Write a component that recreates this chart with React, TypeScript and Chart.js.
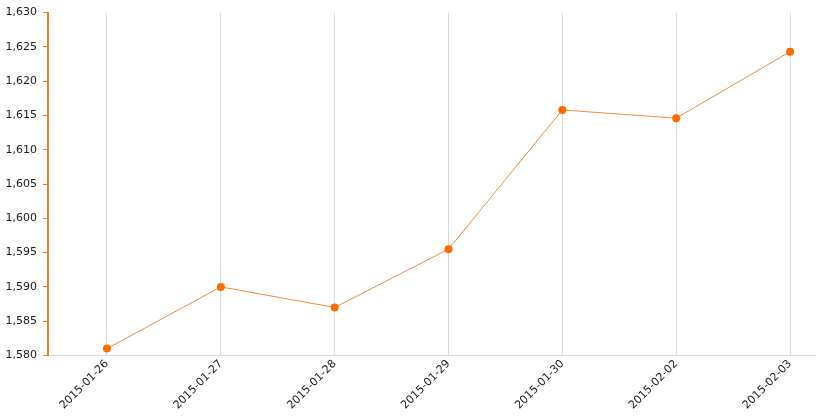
import React, { useEffect, useRef } from "react";
import { Chart, registerables } from "chart.js";

Chart.register(...registerables);

const categories = ["2015-01-26", "2015-01-27", "2015-01-28", "2015-01-29", "2015-01-30", "2015-02-02", "2015-02-03"];
const values = [1581, 1590, 1587, 1595.5, 1615.8, 1614.6, 1624.3];
const yMin = 1580;
const yMax = 1630;
const yStep = 5;

export default function App() {
  const ref = useRef<HTMLCanvasElement | null>(null);
  useEffect(() => {
    if (!ref.current) return;
    const chart = new Chart(ref.current, {
      type: "line",
      data: {
        datasets: [
          {
            data: values.map((v, i) => ({ x: i, y: v })),
            borderColor: "#f58a3a",
            borderWidth: 1,
            pointBackgroundColor: "#ff6a00",
            pointBorderColor: "#ff6a00",
            pointRadius: 4,
            pointBorderWidth: 0,
            tension: 0,
            clip: false,
          },
        ],
      },
      options: {
        animation: false,
        responsive: false,
        maintainAspectRatio: false,
        layout: { autoPadding: false, padding: { top: 12, right: 0, left: 0, bottom: 4 } },
        plugins: { legend: { display: false }, tooltip: { enabled: false } },
        scales: {
          x: {
            type: "linear",
            min: -0.518,
            max: 6.228,
            afterBuildTicks: (s: any) => {
              s.ticks = categories.map((_, i) => ({ value: i }));
            },
            afterFit: (s: any) => {
              s.paddingRight = 0;
              s.paddingLeft = 0;
            },
            ticks: {
              autoSkip: false,
              minRotation: 45,
              maxRotation: 45,
              color: "#1a1a1a",
              font: { family: "DejaVu Sans", size: 11 },
              padding: 2,
              callback: (v: any) => categories[v as number] ?? "",
            },
            grid: { color: "#dcdcdc", lineWidth: 1, drawTicks: false },
            border: { color: "#dcdcdc", width: 1 },
          },
          y: {
            min: yMin,
            max: yMax,
            ticks: {
              stepSize: yStep,
              color: "#1a1a1a",
              font: { family: "DejaVu Sans", size: 11 },
              padding: 6,
              callback: (v: any) => Number(v).toLocaleString("en-US"),
            },
            afterFit: (s: any) => {
              s.width = 48;
            },
            grid: { drawOnChartArea: false, color: "#f47c20", tickLength: 5, lineWidth: 1 },
            border: { color: "#f47c20", width: 2 },
          },
        },
      },
    });
    return () => chart.destroy();
  }, []);
  return (
    <div style={{ position: "fixed", left: 0, top: 0, width: 816, height: 418, background: "#fff" }}>
      <canvas ref={ref} width={816} height={418} style={{ width: 816, height: 418 }} />
    </div>
  );
}
